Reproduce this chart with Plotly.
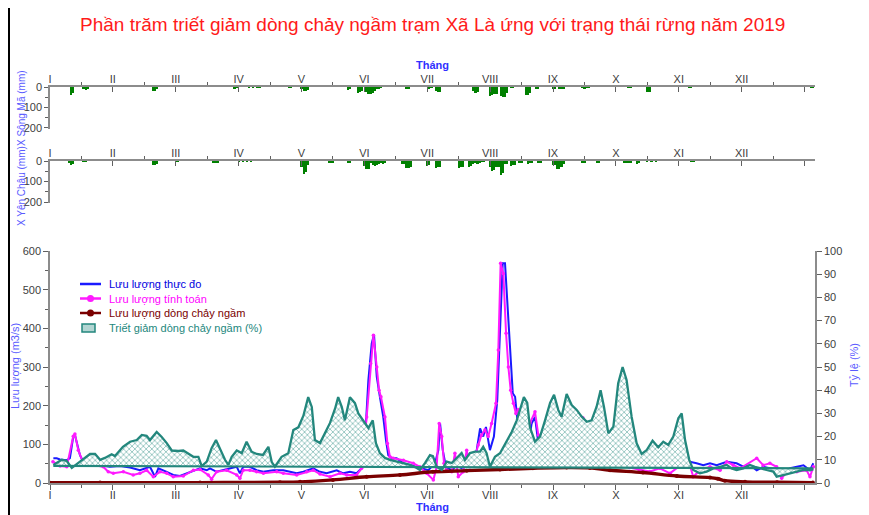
import plotly.graph_objects as go

# ---------------- DATA ----------------
month_ticks = [0, 30, 60, 90, 120, 150, 180, 210, 240, 270, 300, 330, 360]
month_labels = ["I", "II", "III", "IV", "V", "VI", "VII", "VIII", "IX", "X", "XI", "XII", ""]

# Percentage reduction of baseflow (%), right axis
days_pct = [1.6, 5.6, 8.0, 10.4, 14.3, 19.1, 21.5, 23.9, 26.2, 29.4, 31.0, 34.8, 38.2, 41.4, 43.8, 46.1,
            47.7, 50.9, 53.3, 55.7, 58.1, 61.2, 63.6, 66.0, 68.4, 70.8, 72.4, 74.8, 77.1, 79.2, 81.1, 83.5,
            85.1, 86.7, 89.1, 91.5, 93.8, 96.2, 98.6, 101.6, 104.2, 105.8, 107.3, 110.5, 113.7, 116.1, 118.5,
            120.9, 123.2, 124.9, 126.4, 128.8, 131.2, 133.6, 136.0, 137.5, 139.2, 140.7, 143.1, 145.5, 147.1,
            149.5, 151.9, 154.0, 155.5, 157.4, 159.8, 162.2, 165.4, 168.4, 171.8, 175.0, 176.5, 178.9, 181.3,
            182.7, 184.5, 186.9, 189.3, 191.7, 194.0, 196.4, 198.0, 200.4, 202.8, 205.2, 206.7, 208.3, 209.9,
            212.3, 214.7, 217.9, 220.3, 222.7, 224.2, 226.1, 227.7, 229.0, 231.4, 233.8, 236.2, 238.6, 240.5,
            242.5, 244.1, 246.5, 248.9, 251.3, 253.7, 256.1, 258.4, 260.8, 262.7, 264.3, 266.4, 268.8, 271.1,
            273.2, 275.1, 277.5, 279.9, 282.3, 284.7, 287.5, 290.2, 292.6, 295.0, 297.4, 299.8, 301.4, 303.0,
            305.0, 306.9, 310.1, 313.3, 316.5, 319.7, 322.9, 325.2, 327.6, 330.8, 334.0, 336.3, 338.7, 341.9,
            345.1, 346.7, 349.9, 353.1, 356.3, 359.5, 362.6, 364.2]
pct_reduction = [7.8, 10, 9.5, 6.5, 9.2, 12.5, 12.5, 10, 10.8, 12.4, 11.6, 15.6, 17.8, 18.5, 20.7, 20.3,
                 18.5, 22, 19.8, 17.2, 14, 13.8, 14, 12.5, 11.3, 11.3, 7.3, 9.2, 15, 18.5, 15, 10,
                 7.8, 11.3, 14, 12.9, 17.8, 13.5, 12.5, 12.1, 15.6, 9, 7, 11.3, 12.8, 22.8, 24,
                 29, 37, 32.8, 18.5, 17.2, 21.5, 25.9, 32, 37, 32.8, 27, 37, 34.4, 30,
                 27, 23.7, 27, 17.2, 12.9, 10.8, 10, 9.2, 8.6, 7.8, 6.5, 5.6, 8.6, 12,
                 11.6, 7, 5.6, 9.2, 8.6, 10.8, 12.9, 9.9, 12.9, 13.5, 13.5, 15.6, 12.9, 7,
                 11.3, 12.8, 17.8, 22, 27, 31.5, 37, 34.5, 24, 17.8, 20, 27, 34.5, 38,
                 31.5, 28.6, 38.4, 33.6, 31.5, 28.6, 26.4, 27, 32.9, 40, 32.9, 21.4, 24.3, 43,
                 50, 44.4, 28.6, 17.1, 12.5, 14.2, 18.2, 15.4, 17.8, 16.4, 20, 27.9, 30, 18.5,
                 10, 5.6, 4.2, 4.9, 6.3, 7, 7.8, 6.3, 5.6, 6.3, 7.8, 7, 6.3, 5.6,
                 4.9, 2.7, 3.4, 4.2, 4.9, 5.6, 5.6, 5.9]
days_ref = [1.6, 364.2]
pct_ref = [7.4, 6.3]

# Measured discharge (m3/s)
days_obs = [1.6, 3.2, 4.8, 8.0, 9.5, 11.1, 11.9, 13.0, 14.3, 15.9, 19.1, 23.9, 28.6, 33.4, 38.2, 42.9,
            47.7, 50.1, 51.7, 55.7, 58.8, 62.0, 65.2, 68.4, 71.6, 74.8, 76.3, 79.5, 82.7, 85.9, 89.1, 90.6,
            92.2, 95.4, 98.6, 101.8, 106.5, 111.3, 114.5, 117.7, 120.9, 125.6, 128.8, 132.0, 136.8, 139.9,
            143.1, 146.3, 148.7, 150.3, 151.9, 153.5, 154.6, 155.9, 157.4, 159.0, 160.3, 161.4, 163.0, 165.4,
            168.6, 171.8, 175.0, 176.5, 180.5, 183.7, 185.3, 186.1, 187.4, 188.9, 191.7, 194.0, 196.4, 198.8,
            201.2, 203.6, 205.2, 206.7, 208.0, 209.9, 211.8, 213.4, 214.7, 216.0, 217.1, 218.2, 219.5, 220.8,
            221.9, 223.0, 224.2, 225.8, 227.4, 229.8, 231.4, 232.5, 233.8, 236.2, 240.9, 245.7, 250.5, 255.3,
            260.0, 264.8, 269.6, 274.3, 281.5, 291.0, 299.1, 300.6, 305.3, 308.5, 311.7, 314.9, 318.1, 322.9,
            327.6, 330.8, 334.0, 337.2, 340.3, 343.5, 346.7, 349.9, 353.1, 356.3, 359.5, 362.6, 364.2]
q_obs = [64, 64, 61, 59, 64, 120, 124, 103, 72, 55, 49, 46, 42, 44, 40, 33,
         42, 16, 38, 29, 21, 18, 25, 33, 38, 33, 38, 29, 33, 38, 42, 25,
         42, 42, 33, 29, 33, 33, 29, 25, 29, 38, 29, 25, 33, 25,
         29, 25, 38, 111, 266, 361, 384, 275, 223, 171, 111, 72, 64, 64,
         51, 46, 42, 38, 33, 51, 85, 154, 85, 42, 33, 46, 38, 68,
         59, 85, 141, 120, 145, 85, 120, 214, 387, 568, 568, 473, 344, 232,
         223, 163, 120, 85, 68, 154, 171, 120, 68, 90, 110, 120, 135, 150,
         120, 90, 70, 55, 45, 42, 48, 50, 55, 51, 46, 51, 46, 55,
         51, 42, 46, 33, 42, 38, 33, 29, 38, 42, 46, 33, 51]

# Simulated discharge (m3/s)
days_sim = [1.4, 4.8, 8.0, 11.1, 11.9, 13.5, 15.9, 20.7, 25.4, 27.8, 30.2, 35.0, 39.7, 42.9, 46.1, 49.3,
            52.5, 55.7, 58.8, 63.6, 68.4, 71.6, 75.5, 77.1, 79.5, 84.3, 89.1, 90.6, 92.2, 95.4, 98.6, 101.8,
            108.2, 111.3, 117.7, 122.5, 125.6, 128.8, 133.6, 138.4, 141.6, 146.3, 148.7, 151.1, 153.0, 154.3,
            155.9, 157.0, 157.9, 159.8, 161.0, 162.2, 163.8, 168.6, 173.3, 176.5, 179.7, 182.9, 184.5, 185.7,
            186.9, 188.0, 189.3, 191.7, 193.2, 194.8, 197.2, 198.8, 200.4, 202.8, 204.3, 205.9, 207.5, 209.1,
            210.7, 212.8, 213.9, 215.0, 216.3, 217.6, 218.7, 219.8, 221.1, 222.3, 223.4, 225.0, 226.6, 229.0,
            231.4, 233.0, 236.2, 240.9, 245.7, 250.5, 254.3, 257.6, 262.4, 267.2, 271.6, 276.4, 281.0, 286.2,
            291.0, 295.8, 300.6, 305.3, 306.9, 310.1, 314.9, 319.7, 322.9, 326.0, 329.3, 337.2, 340.3, 343.5,
            346.7, 349.1, 351.5, 356.3, 361.0, 362.6, 364.2]
q_sim = [55, 44, 42, 121, 127, 85, 51, 46, 42, 29, 25, 29, 21, 25, 33, 16,
         29, 25, 16, 18, 33, 35, 21, 10, 29, 33, 21, 12, 33, 33, 29, 25,
         29, 25, 21, 29, 33, 23, 16, 25, 21, 21, 38, 171, 309, 382,
         300, 240, 223, 171, 102, 68, 64, 59, 51, 42, 25, 8, 42, 154,
         120, 51, 33, 29, 77, 16, 29, 85, 42, 68, 98, 124, 137, 120,
         154, 206, 344, 568, 542, 387, 300, 240, 206, 180, 190, 163, 90, 155,
         184, 124, 95, 115, 125, 140, 168, 130, 100, 70, 50, 40, 35, 30,
         38, 25, 45, 46, 16, 33, 42, 33, 55, 46, 38, 64, 46, 51,
         42, 12, 29, 29, 33, 16, 42]

# Baseflow discharge (m3/s)
days_bf = [0, 23.9, 71.6, 109.7, 119.3, 135.0, 151.1, 167.0, 182.7, 198.8, 214.7, 230.4, 246.5, 257.6,
           267.2, 282.9, 299.1, 314.9, 318.7, 322.0, 331.6, 346.9, 364.0]
q_bf = [0.5, 1, 1, 2, 3, 8, 16, 21, 29, 32, 35, 38, 40, 39,
        33, 27, 18, 14, 11, 6, 3, 2, 1]

# Rainfall (mm), station Song Ma
rain_songma_days = [10, 11, 16, 17, 18, 49, 50, 51, 88, 89, 95, 97, 99, 100, 114, 115, 120, 121, 122, 123,
                    142, 143, 147, 148, 149, 151, 152, 153, 154, 155, 156, 157, 158, 170, 171, 181, 182, 184,
                    185, 186, 202, 203, 204, 210, 211, 212, 213, 215, 216, 217, 218, 220, 221, 227, 228, 229,
                    232, 233, 240, 241, 243, 244, 245, 254, 255, 256, 257, 276, 277, 285, 286, 305, 306, 363, 364]
rain_songma = [37, 30, 10, 13, 8, 18, 18, 12, 5, 4, 2, 2, 2, 2, 2, 2, 12, 21, 18, 15,
               13, 10, 29, 25, 20, 25, 34, 32, 30, 20, 10, 5, 4, 8, 6, 5, 4, 20,
               25, 25, 20, 29, 22, 42, 40, 35, 34, 45, 50, 48, 30, 3, 3, 41, 38, 30,
               10, 8, 7, 6, 5, 6, 5, 4, 5, 4, 3, 4, 4, 25, 22, 2, 2, 2, 2]

# Rainfall (mm), station Yen Chau
rain_yenchau_days = [9, 10, 11, 16, 17, 49, 50, 51, 60, 61, 78, 79, 80, 90, 92, 94, 96, 120, 121, 122, 123,
                     133, 134, 135, 142, 143, 150, 151, 152, 153, 154, 155, 156, 157, 158, 159, 160, 168, 169,
                     170, 171, 172, 180, 181, 184, 185, 186, 195, 196, 197, 200, 201, 202, 203, 204, 205, 206,
                     207, 210, 211, 212, 213, 214, 215, 216, 217, 218, 220, 221, 222, 224, 225, 228, 229, 230,
                     233, 234, 240, 241, 242, 243, 244, 245, 254, 255, 261, 262, 274, 275, 276, 277, 280, 281,
                     285, 287, 289, 306, 307]
rain_yenchau = [12, 19, 15, 2, 2, 19, 19, 14, 3, 3, 11, 10, 8, 3, 3, 3, 3, 30, 63, 55, 20,
                11, 8, 6, 11, 9, 25, 40, 38, 10, 20, 22, 18, 15, 12, 15, 12, 16, 14,
                35, 33, 30, 22, 18, 32, 30, 28, 32, 30, 28, 27, 25, 15, 12, 15, 10, 3,
                3, 30, 48, 45, 27, 27, 68, 60, 16, 14, 22, 20, 18, 11, 10, 14, 12, 10,
                12, 10, 18, 20, 40, 38, 30, 15, 10, 8, 11, 9, 10, 8, 8, 10, 13, 12,
                2, 2, 2, 3, 3]

legend_names = ["Lưu lượng thực đo", "Lưu lượng tính toán", "Lưu lượng dòng chảy ngầm",
                "Triết giảm dòng chảy ngầm (%)"]

# ---------------- STYLE ----------------
FONT = "Arial, Liberation Sans, sans-serif"
TEAL = "#23877d"
BLUE = "#1a1aff"
MAGENTA = "#ff1aff"
DARKRED = "#7a0000"
GREEN = "#008000"
AXISGRAY = "#8c8c8c"
TICKFONT = dict(family=FONT, size=11, color="#404040")
TITLEBLUE = "#5a5aff"

# page body has an 8px margin: map reference pixel positions into the figure
OFF = 8
W, H = 869 - 2 * OFF, 515 - OFF
def py(p):
    return 1 - (p - OFF) / H
def px(p):
    return (p - 50) / 765

fig = go.Figure()

fig.add_trace(go.Scatter(
    x=days_obs, y=q_obs, mode="lines", line=dict(color=BLUE, width=2),
    name=legend_names[0], showlegend=False, xaxis="x", yaxis="y"))
fig.add_trace(go.Scatter(
    x=days_sim, y=q_sim, mode="lines+markers", line=dict(color=MAGENTA, width=2),
    marker=dict(color=MAGENTA, size=3.5),
    name=legend_names[1], showlegend=False, xaxis="x", yaxis="y"))
fig.add_trace(go.Scatter(
    x=days_bf, y=q_bf, mode="lines+markers", line=dict(color=DARKRED, width=3.4, shape="spline"),
    marker=dict(color=DARKRED, size=4),
    name=legend_names[2], showlegend=False, xaxis="x", yaxis="y"))
fig.add_trace(go.Scatter(
    x=days_ref, y=pct_ref, mode="lines", line=dict(color=TEAL, width=2.2),
    showlegend=False, hoverinfo="skip", xaxis="x", yaxis="y2"))
fig.add_trace(go.Scatter(
    x=days_pct, y=pct_reduction, mode="lines", line=dict(color=TEAL, width=2.3),
    fill="tonexty", fillcolor="white",
    fillpattern=dict(shape="x", fgcolor=TEAL, bgcolor="white", size=4, solidity=0.4),
    name=legend_names[3], showlegend=False, xaxis="x", yaxis="y2"))

fig.add_trace(go.Bar(x=rain_songma_days, y=rain_songma, width=1.05, marker=dict(color=GREEN, line=dict(width=0)),
                     showlegend=False, xaxis="x2", yaxis="y3"))
fig.add_trace(go.Bar(x=rain_yenchau_days, y=rain_yenchau, width=1.05, marker=dict(color=GREEN, line=dict(width=0)),
                     showlegend=False, xaxis="x3", yaxis="y4"))

x_common = dict(range=[0, 365], tickmode="array", tickvals=month_ticks, ticktext=month_labels,
                showline=True, linecolor=AXISGRAY, linewidth=1.5, ticklen=5, tickcolor="#606060",
                tickfont=TICKFONT, showgrid=False, zeroline=False,
                minor=dict(tickvals=[15 + 30 * i for i in range(12)], ticklen=3, tickcolor="#606060", ticks="outside"))

def yax(dom, rng, **kw):
    d = dict(domain=dom, range=rng, ticks="outside", ticklen=5, showline=True, linecolor=AXISGRAY,
             linewidth=1.5, tickcolor="#606060", tickfont=TICKFONT, showgrid=False, zeroline=False)
    d.update(kw)
    return d

fig.update_layout(
    width=W, height=H,
    margin=dict(l=50 - OFF, r=W - (815 - OFF), t=0, b=0, autoexpand=False),
    paper_bgcolor="white", plot_bgcolor="rgba(0,0,0,0)",
    font=dict(family=FONT, size=11, color="#404040"),
    bargap=0, showlegend=False,
    xaxis=dict(domain=[0, 1], anchor="y", ticks="outside", ticklabelstandoff=-4, **x_common),
    yaxis=yax([py(483), py(251)], [0, 600], dtick=100,
              minor=dict(dtick=50, ticklen=3, ticks="outside", tickcolor="#606060")),
    yaxis2=dict(overlaying="y", side="right", anchor="x", range=[0, 100], dtick=10, ticks="outside",
                ticklen=5, showline=True, linecolor=AXISGRAY, linewidth=1.5, tickcolor="#606060",
                tickfont=TICKFONT, showgrid=False, zeroline=False),
    xaxis2=dict(domain=[0, 1], anchor="y3", side="top", ticks="inside", ticklabelstandoff=-2, **x_common),
    yaxis3=yax([py(129), py(87)], [205, 0], tickvals=[0, 100, 200], ticklen=4,
               minor=dict(tickvals=[50, 150], ticklen=3, ticks="outside", tickcolor="#606060")),
    xaxis3=dict(domain=[0, 1], anchor="y4", side="top", ticks="inside", ticklabelstandoff=-2, **x_common),
    yaxis4=yax([py(203.3), py(161)], [205, 0], tickvals=[0, 100, 200], ticklen=4,
               minor=dict(tickvals=[50, 150], ticklen=3, ticks="outside", tickcolor="#606060")),
)

ann = [
    dict(text="Phần trăm triết giảm dòng chảy ngầm trạm Xã Là ứng với trạng thái rừng năm 2019",
         x=px(432), y=py(25), font=dict(family=FONT, size=19, color="#ff1a1a")),
    dict(text="<b>Tháng</b>", x=px(432), y=py(65), font=dict(family=FONT, size=11, color="#3030ff")),
    dict(text="<b>Tháng</b>", x=px(432), y=py(507), font=dict(family=FONT, size=11, color="#3030ff")),
    dict(text="Lưu lượng (m3/s)", x=px(15), y=py(366), textangle=-90,
         font=dict(family=FONT, size=11, color=TITLEBLUE)),
    dict(text="Tỷ lệ (%)", x=px(854), y=py(365), textangle=-90,
         font=dict(family=FONT, size=11, color=TITLEBLUE)),
    dict(text="X Sông Mã (mm)", x=px(21), y=py(108), textangle=-90,
         font=dict(family=FONT, size=10, color=TITLEBLUE)),
    dict(text="X Yên Châu (mm)", x=px(21), y=py(186), textangle=-90,
         font=dict(family=FONT, size=10, color=TITLEBLUE)),
]
for a in ann:
    a.update(xref="paper", yref="paper", showarrow=False, xanchor="center", yanchor="middle")

# custom compact legend (text as annotations, symbols as shapes)
leg_rows = [284, 298.5, 313, 328]
leg_colors = ["#0000e0", "#ff00ff", "#7a0000", TEAL]
for name, row, col in zip(legend_names, leg_rows, leg_colors):
    ann.append(dict(text=name, x=px(107), y=py(row), xref="paper", yref="paper", showarrow=False,
                    xanchor="left", yanchor="middle", font=dict(family=FONT, size=11, color=col)))
fig.update_layout(annotations=ann)

shapes = []
shapes.append(dict(type="line", xref="paper", yref="paper", x0=px(80), x1=px(101), y0=py(leg_rows[0]),
                   y1=py(leg_rows[0]), line=dict(color=BLUE, width=2.5)))
for row, col in [(leg_rows[1], MAGENTA), (leg_rows[2], DARKRED)]:
    shapes.append(dict(type="line", xref="paper", yref="paper", x0=px(80), x1=px(101), y0=py(row),
                       y1=py(row), line=dict(color=col, width=2.5)))
    shapes.append(dict(type="circle", xref="paper", yref="paper", x0=px(87), x1=px(94),
                       y0=py(row + 3.5), y1=py(row - 3.5), fillcolor=col, line=dict(color=col, width=0)))
shapes.append(dict(type="rect", xref="paper", yref="paper", x0=px(82), x1=px(95), y0=py(332),
                   y1=py(324), fillcolor="rgba(35,135,125,0.35)", line=dict(color=TEAL, width=1.5)))
shapes.append(dict(type="line", xref="paper", yref="paper", x0=px(9), x1=px(9), y0=0, y1=1,
                   line=dict(color="black", width=2)))
fig.update_layout(shapes=shapes)

fig.write_html("out.html")
